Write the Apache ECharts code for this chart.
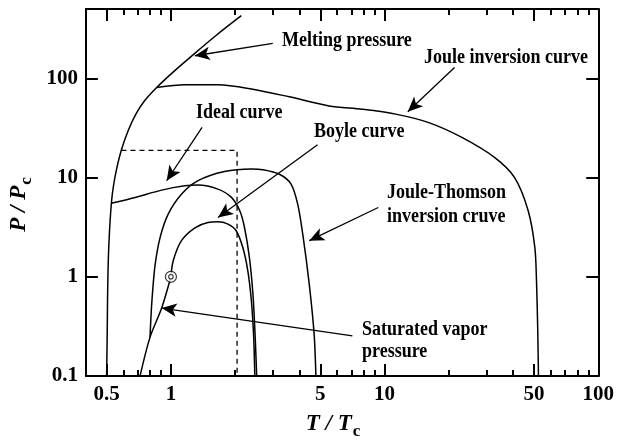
<!DOCTYPE html>
<html>
<head>
<meta charset="utf-8">
<script src="https://cdn.jsdelivr.net/npm/echarts@6/dist/echarts.min.js"></script>
<style>
  html, body { margin: 0; padding: 0; background: #fff; }
  #chart { width: 617px; height: 445px; }
</style>
</head>
<body>
<div id="chart"></div>
<script>
// Reduced temperature / pressure diagram (log-log)
const xMajorTicks = [0.5, 1, 5, 10, 50, 100];
const xMinorTicks = [0.6, 0.7, 0.8, 0.9, 2, 3, 4, 6, 7, 8, 9, 20, 30, 40, 60, 70, 80, 90];
const yMajorTicks = [0.1, 1, 10, 100];

// Melting pressure curve
const meltT = [0.5, 0.5028, 0.505, 0.5077, 0.511, 0.5176, 0.5277, 0.5385, 0.5545, 0.5849,
               0.6305, 0.6872, 0.7527, 0.8578, 1.039, 1.226, 1.62, 2.135];
const meltP = [0.1, 0.226, 0.573, 1.15, 1.83, 3.27, 5.84, 8.27, 11.7, 18.6,
               29.6, 44.0, 59.5, 81.0, 119, 162, 269, 428];

// Joule inversion curve
const jouleT = [0.858, 1.16, 1.66, 2.38, 3.58, 5.5, 7.86, 11.26, 16.1, 23.0, 32.8, 40.6, 47.0, 50.5, 51.4, 52.1, 52.5];
const jouleP = [81, 86.2, 86.2, 78.2, 65.1, 52.7, 48.8, 43.6, 35.8, 25.4, 15.9, 10.0, 4.63, 1.97, 0.911, 0.286, 0.1];

// Ideal curve (Z = 1)
const idealT = [0.526, 0.68, 0.905, 1.16, 1.34, 1.66, 1.92, 2.10, 2.21, 2.33, 2.42, 2.48, 2.52];
const idealP = [5.50, 6.31, 7.47, 8.25, 8.40, 7.65, 6.31, 4.63, 3.14, 1.56, 0.669, 0.245, 0.1];

// Boyle curve
const boyleT = [1.0, 1.025, 1.12, 1.29, 1.49, 1.66, 1.85, 2.02, 2.17, 2.29, 2.38, 2.44, 2.47];
const boyleP = [1.0, 1.45, 2.31, 3.10, 3.53, 3.58, 3.39, 2.91, 1.97, 1.15, 0.573, 0.245, 0.1];

// Joule-Thomson inversion curve
const jtT = [0.798, 0.807, 0.818, 0.842, 0.889, 0.971, 1.12, 1.34, 1.78, 2.38, 2.69, 3.22, 3.65, 3.92, 4.14, 4.44, 4.68, 4.77];
const jtP = [0.245, 0.405, 0.643, 1.29, 2.47, 4.28, 6.8, 9.3, 11.5, 12.2, 12.0, 10.8, 8.6, 5.4, 2.69, 0.844, 0.264, 0.1];

// Saturated vapor pressure up to the critical point
const vaporT = [0.717, 0.798, 0.905, 1.0];
const vaporP = [0.1, 0.245, 0.484, 1.0];

// Critical point
const criticalT = [1.0];
const criticalP = [1.0];

// Dashed region boundary
const boxT = [0.587, 2.04, 2.04];
const boxP = [18.8, 18.8, 0.1];

// Annotation arrows: [T, P] of tail and head
const arrowTails = [[2.996, 224.8], [21.25, 128.8], [1.399, 32.0], [4.855, 21.4], [9.34, 4.99], [7.07, 0.254]];
const arrowHeads = [[1.294, 169], [12.84, 46.1], [0.955, 9.29], [1.661, 3.96], [4.44, 2.31], [0.905, 0.484]];

// Annotation texts
const noteTexts = ['Melting pressure', 'Joule inversion curve', 'Ideal curve', 'Boyle curve',
                   'Joule-Thomson', 'inversion cruve', 'Saturated vapor', 'pressure'];

const SERIF = '"Liberation Serif", "Times New Roman", serif';
const zip = (xs, ys) => xs.map((v, i) => [v, ys[i]]);
const fmt = v => String(+(+v).toPrecision(3));

const curveStyle = { color: '#000', width: 1.5 };
function curve(name, xs, ys) {
  return {
    name, type: 'line', data: zip(xs, ys), smooth: 0.3, showSymbol: false,
    lineStyle: curveStyle, silent: true, animation: false, z: 3
  };
}

function xAxisDef(pos, ticks, len, main) {
  return {
    type: 'log', logBase: 10, min: 0.4, max: 100, position: pos, gridIndex: 0,
    axisLine: { show: main, lineStyle: { color: '#000', width: 2 } },
    axisTick: { show: true, inside: true, length: len, customValues: ticks,
                lineStyle: { color: '#000', width: 2 } },
    axisLabel: main && pos === 'bottom' ? {
      show: true, customValues: ticks, formatter: fmt, margin: 8,
      fontFamily: SERIF, fontWeight: 'bold', fontSize: 21, color: '#000'
    } : { show: false },
    splitLine: { show: false },
    minorTick: { show: false }
  };
}
function yAxisDef(pos, main) {
  return {
    type: 'log', logBase: 10, min: 0.1, max: 500, position: pos, gridIndex: 0,
    axisLine: { show: true, lineStyle: { color: '#000', width: 2 } },
    axisTick: { show: true, inside: true, length: 12, customValues: yMajorTicks,
                lineStyle: { color: '#000', width: 2 } },
    axisLabel: main ? {
      show: true, customValues: yMajorTicks, formatter: fmt, margin: 8,
      fontFamily: SERIF, fontWeight: 'bold', fontSize: 21, color: '#000'
    } : { show: false },
    splitLine: { show: false }
  };
}

function titleStyle(tailPad) {
  return {
    rich: {
      i: { fontFamily: SERIF, fontStyle: 'italic', fontWeight: 'bold', fontSize: 23, color: '#000' },
      s: { fontFamily: SERIF, fontWeight: 'bold', fontSize: 17, color: '#000', padding: [15, tailPad, 0, 1] }
    }
  };
}

const xAxes = [
  xAxisDef('bottom', xMajorTicks, 12, true),
  xAxisDef('bottom', xMinorTicks, 6, false),
  xAxisDef('top', xMajorTicks, 12, true),
  xAxisDef('top', xMinorTicks, 6, false)
];
Object.assign(xAxes[0], {
  name: '{i|T / T}{s|c}', nameLocation: 'middle', nameGap: 32, nameTextStyle: titleStyle(18)
});
const yAxes = [yAxisDef('left', true), yAxisDef('right', false)];
Object.assign(yAxes[0], {
  name: '{i|P / P}{s|c}', nameLocation: 'middle', nameGap: 46, nameTextStyle: titleStyle(24)
});

const noteAnchors = [[282, 41], [424, 58], [196, 113], [314, 132], [387, 193], [387, 217], [362, 330], [362, 352]];

const chart = echarts.init(document.getElementById('chart'), null, { renderer: 'canvas' });
chart.setOption({
  animation: false,
  backgroundColor: '#fff',
  grid: { left: 85, right: 16, top: 9, bottom: 69, containLabel: false },
  xAxis: xAxes,
  yAxis: yAxes,
  graphic: noteTexts.map((t, i) => ({
    type: 'text', x: noteAnchors[i][0], y: noteAnchors[i][1], scaleY: 1.14, silent: true,
    style: { text: t, fill: '#000', font: 'bold 18px ' + SERIF, align: 'left', verticalAlign: 'middle' }
  })),
  series: [
    curve('Melting pressure', meltT, meltP),
    curve('Joule inversion curve', jouleT, jouleP),
    curve('Ideal curve', idealT, idealP),
    curve('Boyle curve', boyleT, boyleP),
    curve('Joule-Thomson inversion curve', jtT, jtP),
    curve('Saturated vapor pressure', vaporT, vaporP),
    {
      name: 'Boundary', type: 'line', data: zip(boxT, boxP), showSymbol: false, silent: true,
      lineStyle: { color: '#000', width: 1.3, type: [5, 4] }, z: 2
    },
    {
      name: 'Annotations', type: 'line', data: [], silent: true,
      markLine: {
        silent: true, animation: false,
        symbol: ['none', 'arrow'], symbolSize: [10, 15],
        label: { show: false },
        lineStyle: { color: '#000', width: 1.3, type: 'solid' },
        data: arrowTails.map((a, i) => [{ coord: a }, { coord: arrowHeads[i] }])
      }
    },
    {
      name: 'Critical point', type: 'scatter', data: zip(criticalT, criticalP), symbolSize: 11,
      itemStyle: { color: '#fff', borderColor: '#000', borderWidth: 1.2 }, silent: true, z: 5
    },
    {
      name: 'Critical point core', type: 'scatter', data: zip(criticalT, criticalP), symbolSize: 4.5,
      itemStyle: { color: '#fff', borderColor: '#000', borderWidth: 1.1 }, silent: true, z: 6
    }
  ]
});
</script>
</body>
</html>
